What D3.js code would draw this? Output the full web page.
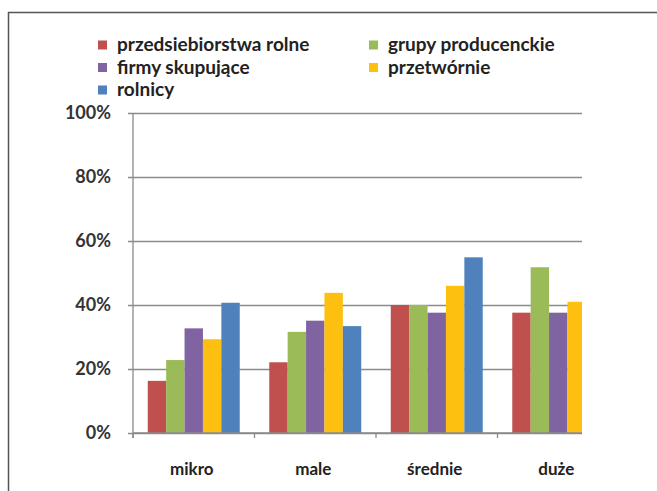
<!DOCTYPE html>
<html>
<head>
<meta charset="utf-8">
<script src="https://cdn.jsdelivr.net/npm/d3@7"></script>
<style>
  body { margin: 0; background: #fff; }
  svg text { font-family: Lato, "Open Sans", sans-serif; font-weight: bold; }
</style>
</head>
<body>
<div id="chart"></div>
<script>
// categories and series
var categories = ["mikro", "male", "średnie", "duże"];
var seriesNames = ["przedsiebiorstwa rolne", "grupy producenckie", "firmy skupujące", "przetwórnie", "rolnicy"];
var seriesColors = ["#c0504d", "#9bbb59", "#8064a2", "#fdc010", "#4f81bd"];

// values per series, in %, one per category (rolnicy for duże is cut off in the picture)
var przedsiebiorstwa = [16.3, 22.1, 40.0, 37.6];
var grupy = [22.8, 31.6, 40.0, 51.8];
var firmy = [32.7, 35.1, 37.6, 37.6];
var przetwornie = [29.3, 43.8, 46.0, 41.0];
var rolnicy = [40.7, 33.4, 54.9, null];

var yTicks = [0, 20, 40, 60, 80, 100];

var allValues = [przedsiebiorstwa, grupy, firmy, przetwornie, rolnicy];

var W = 657, H = 491;
var svg = d3.select("#chart").append("svg").attr("width", W).attr("height", H);

// outer frame (top and left edges of the page box)
svg.append("line").attr("x1", 8).attr("x2", W).attr("y1", 12.5).attr("y2", 12.5)
    .attr("stroke", "#555").attr("stroke-width", 1.5);
svg.append("line").attr("x1", 8.5).attr("x2", 8.5).attr("y1", 12).attr("y2", H)
    .attr("stroke", "#555").attr("stroke-width", 1.5);

var plotLeft = 133, plotRight = 619, clipRight = 582,
    plotTop = 113, plotBottom = 433;

var x0 = d3.scaleBand().domain(categories).range([plotLeft, plotRight])
    .paddingInner(0.243).paddingOuter(0.1215);
var x1 = d3.scaleBand().domain(d3.range(seriesNames.length)).range([0, x0.bandwidth()]);
var y = d3.scaleLinear().domain([0, 100]).range([plotBottom, plotTop]);

svg.append("defs").append("clipPath").attr("id", "clip")
    .append("rect").attr("x", 0).attr("y", 0).attr("width", clipRight).attr("height", H);

// gridlines + y labels
var yAxis = d3.axisLeft(y).tickValues(yTicks)
    .tickSize(-(clipRight - plotLeft))
    .tickFormat(function(d) { return d + "%"; });

var gy = svg.append("g").attr("transform", "translate(" + plotLeft + ",0)").call(yAxis);
gy.select(".domain").remove();
gy.selectAll(".tick line").attr("stroke", "#8a8a8a").attr("stroke-width", 1.3).attr("x1", -5);
gy.selectAll(".tick text").attr("x", -22).attr("fill", "#333").style("font-size", "18px");

// y axis line
svg.append("line").attr("x1", plotLeft).attr("x2", plotLeft).attr("y1", plotTop).attr("y2", plotBottom + 5)
    .attr("stroke", "#8a8a8a").attr("stroke-width", 1.3);

// bars
var bars = svg.append("g").attr("clip-path", "url(#clip)");
allValues.forEach(function(vals, si) {
    bars.selectAll(".s" + si)
        .data(vals.map(function(v, ci) { return {v: v, c: categories[ci]}; }).filter(function(d) { return d.v != null; }))
        .enter().append("rect")
        .attr("x", function(d) { return x0(d.c) + x1(si); })
        .attr("width", x1.bandwidth())
        .attr("y", function(d) { return y(d.v); })
        .attr("height", function(d) { return y(0) - y(d.v); })
        .attr("fill", seriesColors[si]);
});

// x axis baseline + category ticks
svg.append("line").attr("x1", plotLeft).attr("x2", clipRight).attr("y1", plotBottom).attr("y2", plotBottom)
    .attr("stroke", "#8a8a8a").attr("stroke-width", 1.3);
var step = x0.step();
categories.forEach(function(c) {
    var tx = x0(c) - x0.paddingOuter() * step;
    svg.append("line").attr("x1", tx).attr("x2", tx).attr("y1", plotBottom).attr("y2", plotBottom + 5)
        .attr("stroke", "#8a8a8a").attr("stroke-width", 1.3);
});

svg.append("g").selectAll("text").data(categories).enter().append("text")
    .attr("x", function(d) { return x0(d) + x0.bandwidth() / 2 - 2; })
    .attr("y", 475)
    .attr("text-anchor", "middle")
    .attr("fill", "#222")
    .style("font-size", "17px")
    .text(function(d) { return d; });

// legend
var legendPos = [[98, 45], [369, 45], [98, 67.5], [369, 67.5], [98, 90]];
var lg = svg.append("g");
seriesNames.forEach(function(name, i) {
    var p = legendPos[i];
    lg.append("rect").attr("x", p[0]).attr("y", p[1] - 4.5).attr("width", 9).attr("height", 9)
        .attr("fill", seriesColors[i]);
    lg.append("text").attr("x", p[0] + 19).attr("y", p[1] + 6)
        .attr("fill", "#222").style("font-size", "19px").text(name);
});
</script>
</body>
</html>
